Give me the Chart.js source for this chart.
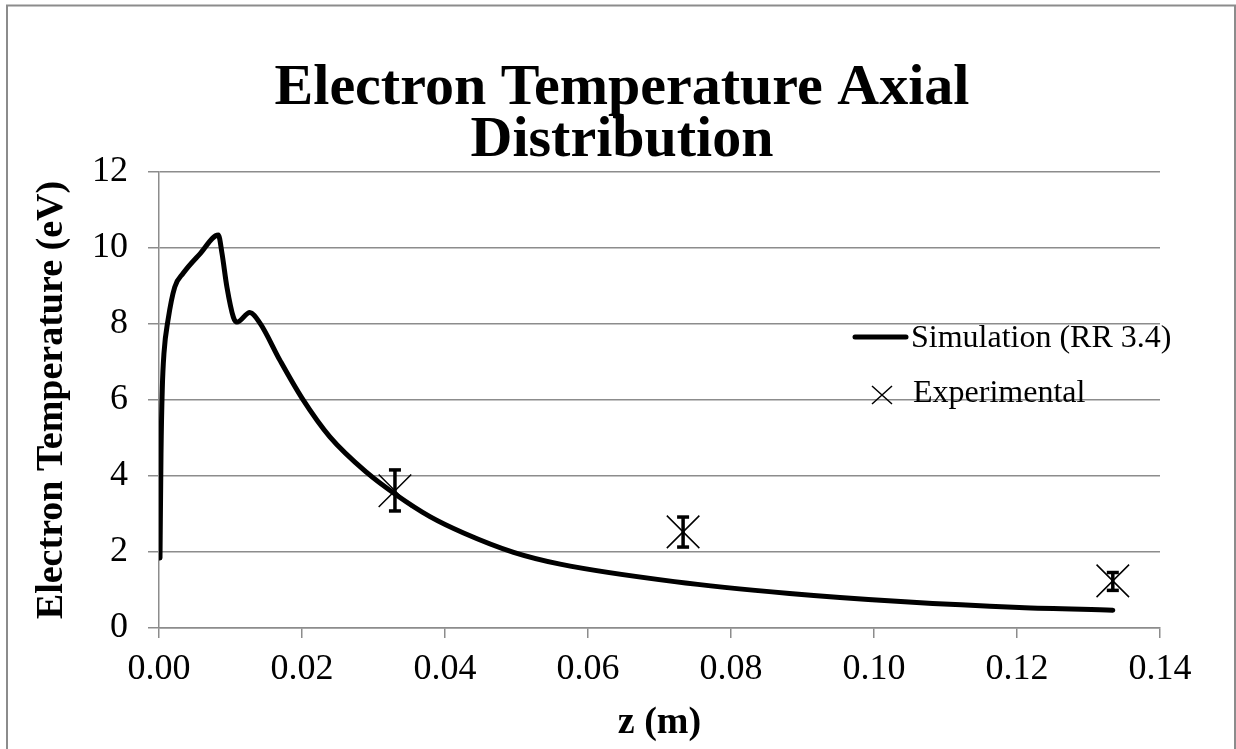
<!DOCTYPE html>
<html>
<head>
<meta charset="utf-8">
<script src="https://cdn.jsdelivr.net/npm/chart.js@4.4.1/dist/chart.umd.min.js"></script>
<style>
html,body{margin:0;padding:0;background:#fff;}
canvas{display:block;}
</style>
</head>
<body>
<canvas id="c" width="1236" height="749"></canvas>
<script>
// ---- data ----
const simZ  = [0.00014, 0.00028, 0.00046, 0.0007, 0.00126, 0.0022, 0.0034, 0.0057, 0.0083, 0.0088, 0.0095, 0.0104, 0.0109, 0.0127, 0.0141, 0.0169, 0.0200, 0.0239, 0.0290, 0.0332, 0.0379, 0.0426, 0.0496, 0.0561, 0.0721, 0.0882, 0.1043, 0.1203, 0.1334];
const simTe = [1.84, 4.6, 6.3, 7.24, 8.1, 8.97, 9.34, 9.84, 10.34, 9.87, 8.97, 8.18, 8.05, 8.3, 8.03, 7.05, 6.05, 5.03, 4.1, 3.5, 2.93, 2.5, 1.99, 1.68, 1.22, 0.91, 0.69, 0.54, 0.47];
const expZ  = [0.0330, 0.0733, 0.1334];
const expTe = [3.61, 2.53, 1.24];
const expLo = [3.08, 2.13, 0.99];
const expHi = [4.16, 2.92, 1.46];
const seriesNames = ['Simulation (RR 3.4)', 'Experimental'];
const titleLines = ['Electron Temperature Axial', 'Distribution'];
const xTitle = 'z (m)';
const yTitle = 'Electron Temperature (eV)';

const FONT = '"Liberation Serif", "Times New Roman", serif';
const GRID = '#8c8c8c';

const datasets = [
  {
    label: seriesNames[0],
    data: simZ.map((z, i) => ({x: z, y: simTe[i]})),
    showLine: true,
    borderColor: '#000',
    borderWidth: 5,
    pointRadius: 0,
    cubicInterpolationMode: 'monotone',
    borderJoinStyle: 'round',
    borderCapStyle: 'round'
  },
  {
    label: seriesNames[1],
    data: expZ.map((z, i) => ({x: z, y: expTe[i]})),
    showLine: false,
    pointStyle: 'crossRot',
    pointRadius: 23,
    pointHoverRadius: 23,
    borderColor: '#000',
    pointBorderColor: '#000',
    pointBorderWidth: 1.5
  }
];
expZ.forEach((z, i) => {
  datasets.push({
    label: 'err' + i,
    data: [{x: z, y: expLo[i]}, {x: z, y: expHi[i]}],
    showLine: true,
    borderColor: '#000',
    borderWidth: 3.5,
    pointStyle: 'line',
    pointRadius: 6,
    pointBorderWidth: 3.5,
    pointBorderColor: '#000'
  });
});

const framePlugin = {
  id: 'frame',
  beforeDraw(chart) {
    const ctx = chart.ctx;
    ctx.save();
    ctx.fillStyle = '#fff';
    ctx.fillRect(0, 0, chart.width, chart.height);
    ctx.strokeStyle = GRID;
    ctx.lineWidth = 2;
    ctx.strokeRect(7, 5.5, 1228, 780);
    ctx.restore();
  }
};

const legendPlugin = {
  id: 'customLegend',
  afterDatasetsDraw(chart) {
    const ctx = chart.ctx;
    ctx.save();
    ctx.font = '32px ' + FONT;
    ctx.fillStyle = '#000';
    ctx.textBaseline = 'middle';
    ctx.textAlign = 'left';
    // row 1: line sample
    ctx.strokeStyle = '#000';
    ctx.lineWidth = 5;
    ctx.lineCap = 'round';
    ctx.beginPath();
    ctx.moveTo(855, 337);
    ctx.lineTo(906, 337);
    ctx.stroke();
    ctx.fillText(chart.data.datasets[0].label, 911, 339);
    // row 2: x marker
    ctx.lineWidth = 1.5;
    ctx.lineCap = 'butt';
    ctx.beginPath();
    ctx.moveTo(872, 386); ctx.lineTo(892, 404);
    ctx.moveTo(892, 386); ctx.lineTo(872, 404);
    ctx.stroke();
    ctx.fillText(chart.data.datasets[1].label, 913, 394);
    ctx.restore();
  }
};

new Chart(document.getElementById('c'), {
  type: 'scatter',
  data: {datasets},
  plugins: [framePlugin, legendPlugin],
  options: {
    responsive: false,
    animation: false,
    devicePixelRatio: 1,
    layout: {padding: {left: 8, right: 0, top: 0, bottom: 0}},
    plugins: {
      legend: {display: false},
      tooltip: {enabled: false},
      title: {
        display: true,
        text: titleLines,
        color: '#000',
        font: {family: FONT, size: 58, weight: 'bold', lineHeight: 0.9},
        padding: {top: 63, bottom: 4.6}
      }
    },
    scales: {
      x: {
        type: 'linear',
        min: 0, max: 0.14,
        ticks: {
          stepSize: 0.02,
          color: '#000',
          font: {family: FONT, size: 36},
          padding: 10,
          maxRotation: 0,
          callback: v => v.toFixed(2)
        },
        grid: {display: true, drawOnChartArea: false, drawTicks: true, tickLength: 10, color: GRID, lineWidth: 1.5},
        border: {display: true, color: GRID, width: 1.5},
        title: {display: true, text: xTitle, color: '#000', font: {family: FONT, size: 38, weight: 'bold'}, padding: {top: 0, bottom: 3}},
        afterFit(s) { s.height = 121; }
      },
      y: {
        type: 'linear',
        min: 0, max: 12,
        ticks: {
          stepSize: 2,
          color: '#000',
          font: {family: FONT, size: 36},
          padding: 20
        },
        grid: {display: true, drawTicks: true, tickLength: 11, color: GRID, lineWidth: 1.5},
        border: {display: true, color: GRID, width: 1.5},
        title: {display: true, text: yTitle, color: '#000', font: {family: FONT, size: 38, weight: 'bold'}, padding: {top: 21, bottom: 0}},
        afterFit(s) { s.width = 151; }
      },
      y2: {
        type: 'linear',
        position: 'right',
        display: true,
        min: 0, max: 12,
        ticks: {display: false},
        grid: {display: false},
        border: {display: false},
        afterFit(s) { s.width = 76; }
      }
    }
  }
});
</script>
</body>
</html>
